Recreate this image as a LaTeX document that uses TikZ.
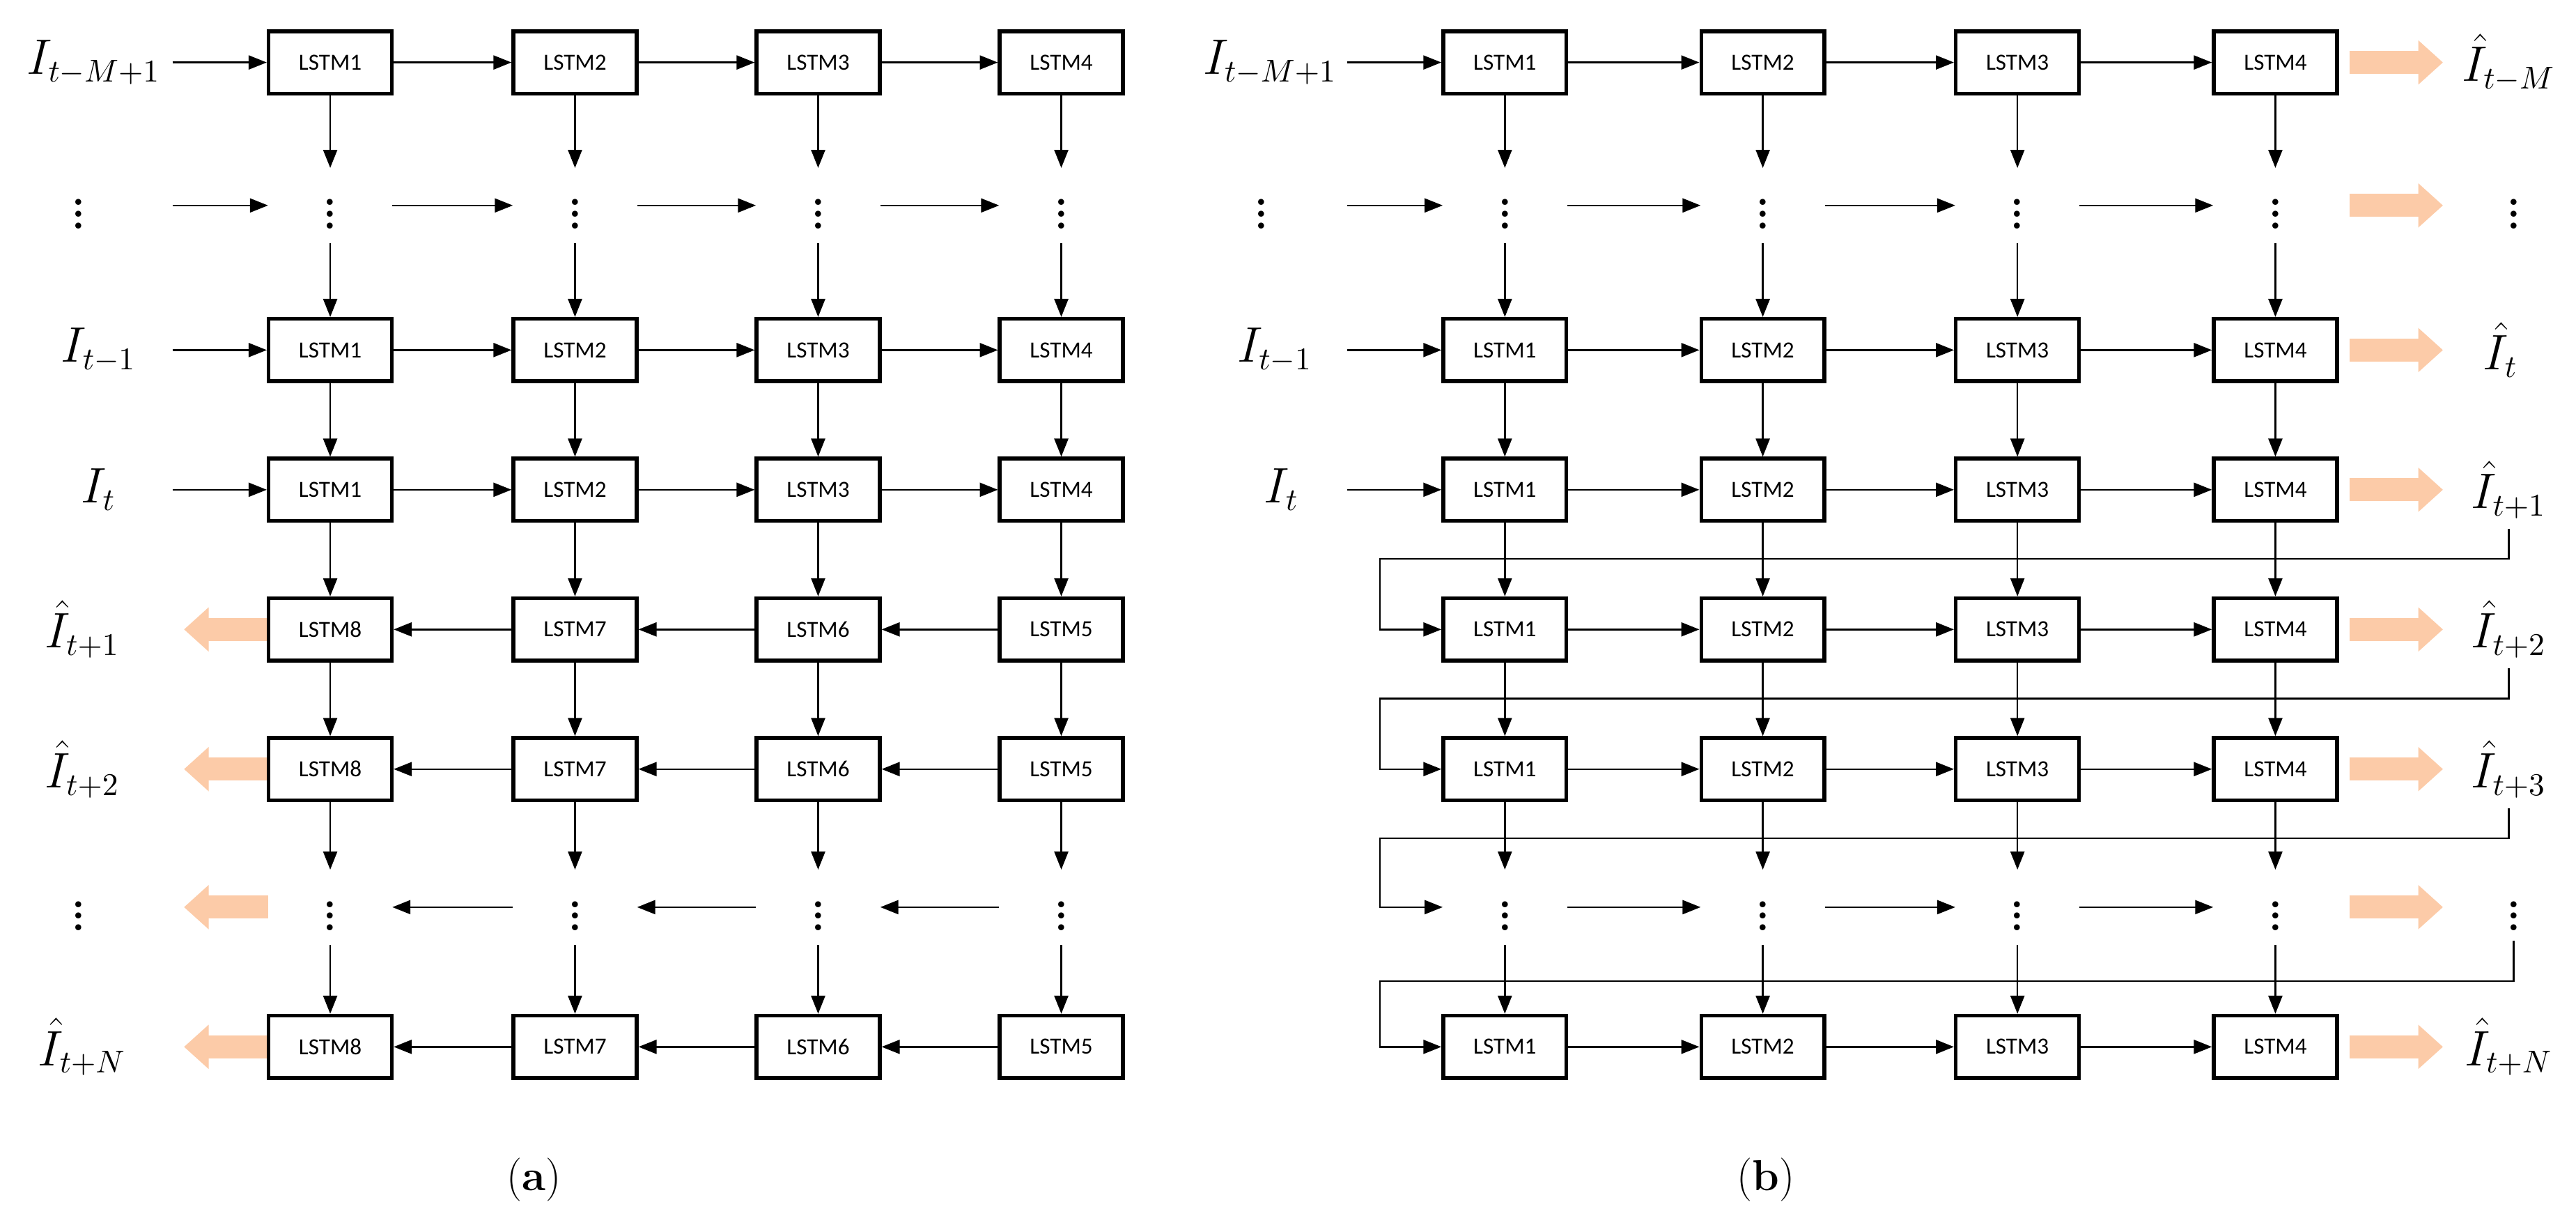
\documentclass[tikz,border=0pt]{standalone}
\usepackage{amsmath}
\usepackage{fontspec}
\newfontfamily\boxfont{Carlito}
\usetikzlibrary{arrows.meta}
\definecolor{peach}{RGB}{252,203,168}

\begin{document}
\begin{tikzpicture}[x=0.02cm,y=-0.02cm]
\tikzset{lstm/.style = {shape=rectangle,draw,line width=1.3pt,minimum width=1.5cm,minimum height=0.76cm,font=\boxfont\fontsize{8}{9}\selectfont}}
\tikzset{dots/.style = {minimum width=1.5cm,minimum height=0.9cm,inner sep=0pt,font=\bfseries\Large}}
\tikzset{lab/.style = {font=\fontsize{16}{20}\selectfont}}
\tikzset{edge/.style = {-{Triangle[length=0.22cm,width=0.17cm]},line width=0.6pt}}
\tikzset{fat/.style = {-{Triangle[length=0.3cm,width=0.52cm]},line width=0.28cm,peach}}
\useasboundingbox (0,0) rectangle (1568,745);
% (a) nodes
\foreach \r/\y in {1/38,3/213,4/298}
  \foreach \c/\x in {1/201,2/350,3/498,4/646}
    \node[lstm] (a\r\c) at (\x,\y) {LSTM\c};
\foreach \r/\y in {5/383,6/468,8/637}
  \foreach \c/\x/\k in {1/201/8,2/350/7,3/498/6,4/646/5}
    \node[lstm] (a\r\c) at (\x,\y) {LSTM\k};
\foreach \r/\y in {2/125,7/552}
  \foreach \c/\x in {1/201,2/350,3/498,4/646}
    \node[dots] (a\r\c) at (\x,\y) {$\vdots$};
% (a) inputs and outputs
\node[lab] (la1) at (57,38) {$I_{t-M+1}$};
\node[lab,font=\bfseries\Large] (la2) at (48,125) {$\vdots$};
\node[lab] (la3) at (60,213) {$I_{t-1}$};
\node[lab] (la4) at (60,298) {$I_{t}$};
\foreach \r/\y in {1/38,2/125,3/213,4/298} {
  \coordinate (ia\r) at (105,\y);
  \draw[edge] (ia\r) -- (a\r1);
}
\node[lab] (oa5) at (50,383) {$\hat{I}_{t+1}$};
\node[lab] (oa6) at (50,468) {$\hat{I}_{t+2}$};
\node[lab,font=\bfseries\Large] (oa7) at (48,552) {$\vdots$};
\node[lab] (oa8) at (50,637) {$\hat{I}_{t+N}$};
\foreach \r/\y in {5/383,6/468,7/552,8/637} {
  \coordinate (ea\r) at (112,\y);
  \draw[fat] (a\r1.west) -- (ea\r);
}
% (a) edges
\foreach \r/\s in {1/2,2/3,3/4,4/5,5/6,6/7,7/8}
  \foreach \c in {1,...,4}
    \draw[edge] (a\r\c) -- (a\s\c);
\foreach \r in {1,...,4}
  \foreach \c/\n in {1/2,2/3,3/4}
    \draw[edge] (a\r\c) -- (a\r\n);
\foreach \r in {5,...,8}
  \foreach \c/\n in {4/3,3/2,2/1}
    \draw[edge] (a\r\c) -- (a\r\n);

% (b) nodes
\foreach \r/\y in {1/38,3/213,4/298,5/383,6/468,8/637}
  \foreach \c/\x in {1/916,2/1073,3/1228,4/1385}
    \node[lstm] (b\r\c) at (\x,\y) {LSTM\c};
\foreach \r/\y in {2/125,7/552}
  \foreach \c/\x in {1/916,2/1073,3/1228,4/1385}
    \node[dots] (b\r\c) at (\x,\y) {$\vdots$};
% (b) inputs
\node[lab] (lb1) at (773,38) {$I_{t-M+1}$};
\node[lab,font=\bfseries\Large] (lb2) at (768,125) {$\vdots$};
\node[lab] (lb3) at (776,213) {$I_{t-1}$};
\node[lab] (lb4) at (780,298) {$I_{t}$};
\foreach \r/\y in {1/38,2/125,3/213,4/298} {
  \coordinate (ib\r) at (820,\y);
  \draw[edge] (ib\r) -- (b\r1);
}
% (b) outputs
\node[lab] (ob1) at (1527,38) {$\hat{I}_{t-M}$};
\node[lab,font=\bfseries\Large] (ob2) at (1530,125) {$\vdots$};
\node[lab] (ob3) at (1522,213) {$\hat{I}_{t}$};
\node[lab] (ob4) at (1527,298) {$\hat{I}_{t+1}$};
\node[lab] (ob5) at (1527,383) {$\hat{I}_{t+2}$};
\node[lab] (ob6) at (1527,468) {$\hat{I}_{t+3}$};
\node[lab,font=\bfseries\Large] (ob7) at (1530,552) {$\vdots$};
\node[lab] (ob8) at (1527,637) {$\hat{I}_{t+N}$};
\foreach \r/\y in {1/38,2/125,3/213,4/298,5/383,6/468,7/552,8/637} {
  \coordinate (sb\r) at (1430,\y);
  \coordinate (eb\r) at (1487,\y);
  \draw[fat] (sb\r) -- (eb\r);
}
% (b) edges
\foreach \r/\s in {1/2,2/3,3/4,4/5,5/6,6/7,7/8}
  \foreach \c in {1,...,4}
    \draw[edge] (b\r\c) -- (b\s\c);
\foreach \r in {1,...,8}
  \foreach \c/\n in {1/2,2/3,3/4}
    \draw[edge] (b\r\c) -- (b\r\n);
% feedback
\foreach \r/\s/\m in {4/5/340,5/6/425,6/7/510,7/8/597} {
  \coordinate (fb\r) at (840,\m);
  \draw[edge] (ob\r.south) -- (ob\r.south |- fb\r) -- (fb\r) |- (b\s1);
}
% captions
\node[font=\fontsize{15}{18}\selectfont] (capa) at (325,718) {(\textbf{a})};
\node[font=\fontsize{15}{18}\selectfont] (capb) at (1075,718) {(\textbf{b})};
\end{tikzpicture}
\end{document}
